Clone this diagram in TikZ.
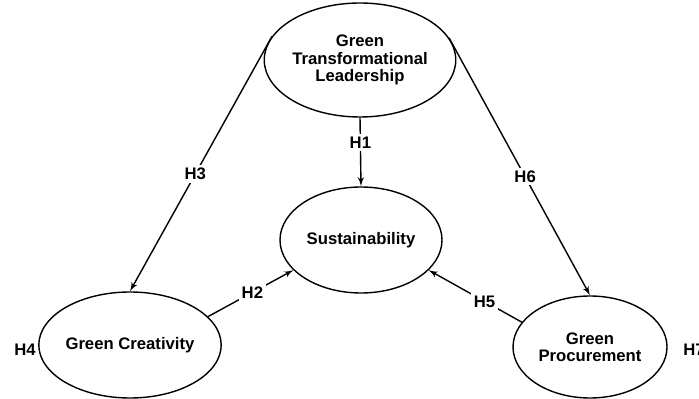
\documentclass[tikz,border=0pt]{standalone}
\usepackage{fontspec}
\setmainfont{Liberation Sans}
\usepackage{tikz}
\usetikzlibrary{calc, arrows, shapes.geometric}
\tikzstyle{construct}=[draw, ellipse, line width=0.8pt, inner sep=0pt, align=center,
font=\fontsize{9.5}{9.8}\selectfont\bfseries]
\tikzstyle{hyp}=[fill=white, inner sep=1.5pt, font=\fontsize{9.5}{9.8}\selectfont\bfseries]

\begin{document}
\begin{tikzpicture}[>=latex', line width=0.8pt]
      \path[use as bounding box, clip] (0,0) rectangle (13.98,-7.98);
      \node [construct, minimum width=3.2cm, minimum height=2.28cm] (t) at (7.2,-1.2) {Green\\Transformational\\Leadership};
      \node [construct, minimum width=3.24cm, minimum height=2.12cm] (s) at (7.22,-4.8) {Sustainability};
      \node [construct, minimum width=3.08cm, minimum height=2.12cm] (c) at (2.6,-6.9) {Green Creativity};
      \node [construct, minimum width=3.08cm, minimum height=2.04cm] (p) at (11.8,-6.94) {Green\\Procurement};
      \node [hyp] (h4) at (0.5,-7.0) {H4};
      \node [hyp] (h7) at (13.88,-7.0) {H7};
      \path[->] (t.south) edge node[hyp, pos=.36] {H1} (s.north);
      \path[->] (t.165) edge node[hyp, pos=.54] {H3} (c.north);
      \path[->] (t.14) edge node[hyp, pos=.54] {H6} (p.north);
      \path[->] (c.20) edge node[hyp, pos=.52] {H2} (s.204);
      \path[->] (p.160) edge node[hyp, pos=.4] {H5} (s.336);
  \end{tikzpicture}
\end{document}
